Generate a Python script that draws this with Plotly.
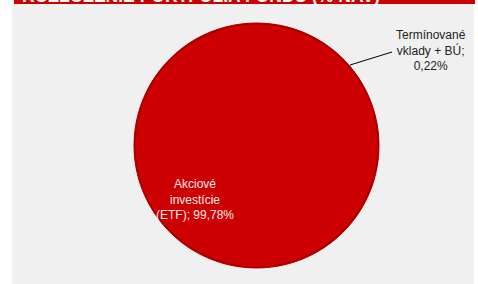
import plotly.graph_objects as go

labels = ["Termínované<br>vklady + BÚ;<br>0,22%", "Akciové<br>investície<br>(ETF); 99,78%"]
names = ["Termínované vklady + BÚ", "Akciové investície (ETF)"]
values = [0.22, 99.78]
colors = ["#CC0000", "#CC0000"]
title = "ROZLOŽENIE PORTFÓLIA FONDU (% NAV)"

W, H = 478, 284
cx, cy, r = 256.5, 145.5, 122.5
fig = go.Figure()
fig.add_trace(go.Pie(
    labels=names, values=values, sort=False, direction="clockwise",
    rotation=48.6, textinfo="none", hoverinfo="label+percent",
    marker=dict(colors=colors, line=dict(color="#CC0000", width=1)),
    domain=dict(x=[(cx - r)/W, (cx + r)/W], y=[(H - cy - r)/H, (H - cy + r)/H]),
    showlegend=False,
))

fig.update_layout(
    width=W, height=H, margin=dict(l=0, r=0, t=0, b=0),
    paper_bgcolor="white", plot_bgcolor="white",
    font=dict(family="Liberation Sans, Arial, sans-serif", size=12, color="#222"),
    shapes=[
        dict(type="rect", xref="paper", yref="paper", x0=12/W, x1=474/W, y0=0, y1=(H-4)/H,
             fillcolor="#f0f0f0", line=dict(width=0), layer="below"),
        dict(type="rect", xref="paper", yref="paper", x0=14/W, x1=475/W, y0=(H-4)/H, y1=1,
             fillcolor="#CC0000", line=dict(width=0), layer="below"),
        dict(type="circle", xref="paper", yref="paper",
             x0=(cx - r + 0.7)/W, x1=(cx + r - 0.7)/W, y0=(H - cy - r + 0.7)/H, y1=(H - cy + r - 0.7)/H,
             line=dict(color="#a30000", width=1.5), layer="above"),
        dict(type="line", xref="paper", yref="paper", x0=350/W, y0=(H-65)/H, x1=392/W, y1=(H-52)/H,
             line=dict(color="black", width=1)),
    ],
    annotations=[
        dict(text="<b>" + title + "</b>", x=20/W, y=(H-8)/H, xref="paper", yref="paper",
             xanchor="left", yanchor="bottom", showarrow=False,
             font=dict(size=17.5, color="white", family="Liberation Sans, Arial, sans-serif")),
        dict(text=labels[0], x=431/W, y=(H-50)/H, xref="paper", yref="paper",
             xanchor="center", yanchor="middle", showarrow=False, align="center",
             font=dict(size=12, color="#222")),
        dict(text=labels[1], x=195/W, y=(H-199)/H, xref="paper", yref="paper",
             xanchor="center", yanchor="middle", showarrow=False, align="center",
             font=dict(size=12, color="#ffe8e8")),
    ],
)
fig.write_html("out.html", config={"displayModeBar": False},
               post_script="document.body.style.margin='0';")
